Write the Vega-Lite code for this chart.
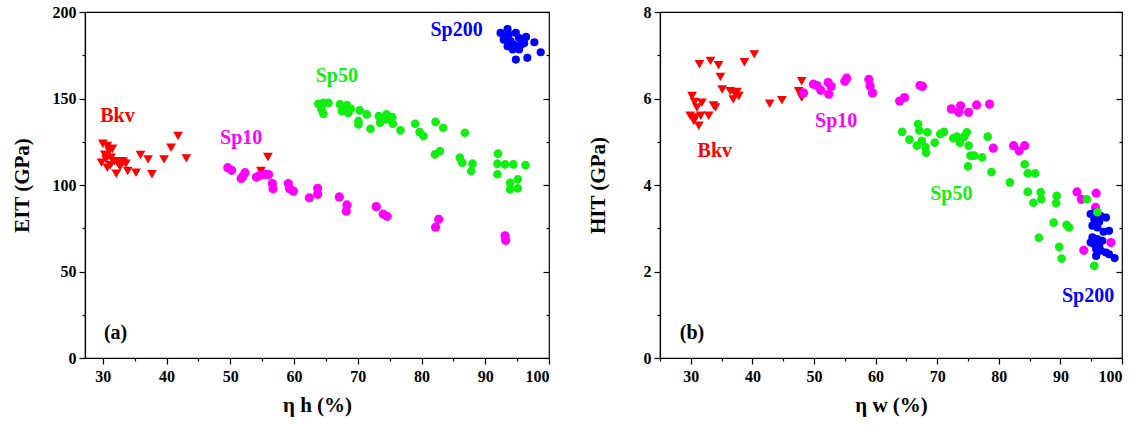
{
  "$schema": "https://vega.github.io/schema/vega-lite/v6.json",
  "background": "white",
  "padding": {"left": 10, "right": 2, "top": 3, "bottom": 2},
  "spacing": 35,
  "config": {
    "view": {"stroke": "black", "strokeWidth": 1.2},
    "axis": {"labelFont": "Liberation Serif", "labelFontWeight": "bold", "labelFontSize": 16, "labelColor": "black", "titleFont": "Liberation Serif", "titleFontWeight": "bold", "titleFontSize": 21, "titleColor": "black", "domainColor": "black", "domainWidth": 1.2, "tickColor": "black", "tickWidth": 1.2, "grid": false},
    "text": {"font": "Liberation Serif", "fontWeight": "bold", "fontSize": 20}
  },
  "datasets": {
    "a": [
      {"g":"Bkv","x":30,"y":123.8},{"g":"Bkv","x":30.7,"y":122.5},{"g":"Bkv","x":31,"y":119.6},{"g":"Bkv","x":29.8,"y":112.9},{"g":"Bkv","x":30.5,"y":114.8},{"g":"Bkv","x":31.3,"y":115.8},{"g":"Bkv","x":31.8,"y":113.8},{"g":"Bkv","x":32.3,"y":112.9},{"g":"Bkv","x":32.9,"y":113.8},{"g":"Bkv","x":33.6,"y":112.3},{"g":"Bkv","x":30.7,"y":110},{"g":"Bkv","x":32.1,"y":106.5},{"g":"Bkv","x":33.9,"y":108.1},{"g":"Bkv","x":35.2,"y":107.1},{"g":"Bkv","x":35.9,"y":117.3},{"g":"Bkv","x":37.1,"y":114.8},{"g":"Bkv","x":37.7,"y":106.2},{"g":"Bkv","x":39.6,"y":114.8},{"g":"Bkv","x":40.7,"y":121.5},{"g":"Bkv","x":41.8,"y":128.3},{"g":"Bkv","x":43.1,"y":115.4},{"g":"Bkv","x":31.2,"y":111.5},{"g":"Bkv","x":32.7,"y":110.5},{"g":"Bkv","x":33.2,"y":113.5},{"g":"Bkv","x":30.3,"y":117.5},{"g":"Bkv","x":31.5,"y":121},{"g":"Bkv","x":54.8,"y":108.1},{"g":"Bkv","x":55.9,"y":116.2},
      {"g":"Sp10","x":49.6,"y":110},{"g":"Sp10","x":50.2,"y":108.5},{"g":"Sp10","x":52,"y":105.2},{"g":"Sp10","x":52.3,"y":107.1},{"g":"Sp10","x":51.7,"y":103.8},{"g":"Sp10","x":54.1,"y":104.6},{"g":"Sp10","x":54.6,"y":105.5},{"g":"Sp10","x":55.4,"y":106.2},{"g":"Sp10","x":56,"y":106},{"g":"Sp10","x":56.6,"y":100.8},{"g":"Sp10","x":56.7,"y":97.8},{"g":"Sp10","x":59.1,"y":100.8},{"g":"Sp10","x":59.3,"y":97.8},{"g":"Sp10","x":59.9,"y":96.4},{"g":"Sp10","x":62.4,"y":92.6},{"g":"Sp10","x":63.7,"y":98.1},{"g":"Sp10","x":63.7,"y":94.6},{"g":"Sp10","x":67.1,"y":93.1},{"g":"Sp10","x":68.3,"y":88.5},{"g":"Sp10","x":68.2,"y":84.9},{"g":"Sp10","x":72.9,"y":87.5},{"g":"Sp10","x":74,"y":83.1},{"g":"Sp10","x":74.6,"y":81.9},{"g":"Sp10","x":82.2,"y":75.6},{"g":"Sp10","x":82.7,"y":80.2},{"g":"Sp10","x":93.1,"y":70.6},{"g":"Sp10","x":93.2,"y":68},
      {"g":"Sp200","x":92.4,"y":187.9},{"g":"Sp200","x":93.5,"y":190.2},{"g":"Sp200","x":93.7,"y":187},{"g":"Sp200","x":94.8,"y":187.9},{"g":"Sp200","x":92.9,"y":184},{"g":"Sp200","x":94,"y":183},{"g":"Sp200","x":95.3,"y":185},{"g":"Sp200","x":96.4,"y":185.6},{"g":"Sp200","x":96.1,"y":182},{"g":"Sp200","x":94.8,"y":179.2},{"g":"Sp200","x":93.5,"y":180.2},{"g":"Sp200","x":94.3,"y":178.3},{"g":"Sp200","x":95.3,"y":178.3},{"g":"Sp200","x":97.7,"y":182.5},{"g":"Sp200","x":98.7,"y":176.7},{"g":"Sp200","x":96.6,"y":173.5},{"g":"Sp200","x":94.8,"y":172.5},{"g":"Sp200","x":93.7,"y":182},{"g":"Sp200","x":94.5,"y":181},{"g":"Sp200","x":93.2,"y":186},{"g":"Sp200","x":95.6,"y":181},
      {"g":"Sp50","x":63.8,"y":146.9},{"g":"Sp50","x":64.6,"y":147.5},{"g":"Sp50","x":65.4,"y":147.5},{"g":"Sp50","x":64.3,"y":143.7},{"g":"Sp50","x":64.6,"y":141.1},{"g":"Sp50","x":67.2,"y":146.6},{"g":"Sp50","x":68.3,"y":146.2},{"g":"Sp50","x":67.5,"y":142.7},{"g":"Sp50","x":68.5,"y":141.7},{"g":"Sp50","x":70.3,"y":143.1},{"g":"Sp50","x":70.1,"y":136.9},{"g":"Sp50","x":70.1,"y":135},{"g":"Sp50","x":71.4,"y":140.8},{"g":"Sp50","x":72,"y":132.5},{"g":"Sp50","x":73.3,"y":139.8},{"g":"Sp50","x":73.5,"y":136},{"g":"Sp50","x":74.3,"y":137.9},{"g":"Sp50","x":74.5,"y":140.8},{"g":"Sp50","x":75.4,"y":139.2},{"g":"Sp50","x":75.5,"y":135.4},{"g":"Sp50","x":76.7,"y":131.6},{"g":"Sp50","x":79,"y":135.4},{"g":"Sp50","x":79.7,"y":130.6},{"g":"Sp50","x":80.3,"y":128.3},{"g":"Sp50","x":82.2,"y":136.5},{"g":"Sp50","x":83.4,"y":133.1},{"g":"Sp50","x":82.1,"y":117.7},{"g":"Sp50","x":82.9,"y":119.6},{"g":"Sp50","x":86.8,"y":130.2},{"g":"Sp50","x":86,"y":115.8},{"g":"Sp50","x":86.4,"y":112.9},{"g":"Sp50","x":88,"y":112.3},{"g":"Sp50","x":87.8,"y":108.1},{"g":"Sp50","x":92,"y":118.1},{"g":"Sp50","x":91.9,"y":112.3},{"g":"Sp50","x":91.9,"y":106.2},{"g":"Sp50","x":93.1,"y":111.9},{"g":"Sp50","x":94.4,"y":111.9},{"g":"Sp50","x":96.3,"y":111.5},{"g":"Sp50","x":95.1,"y":103.3},{"g":"Sp50","x":93.9,"y":101.3},{"g":"Sp50","x":93.9,"y":97.5},{"g":"Sp50","x":95.1,"y":98.1},{"g":"Sp50","x":68.9,"y":144},{"g":"Sp50","x":74.9,"y":138}
    ],
    "b": [
      {"g":"Bkv","x":31.4,"y":6.79},{"g":"Bkv","x":33.2,"y":6.87},{"g":"Bkv","x":34.5,"y":6.77},{"g":"Bkv","x":34.8,"y":6.5},{"g":"Bkv","x":38.7,"y":6.84},{"g":"Bkv","x":40.3,"y":7.02},{"g":"Bkv","x":35.1,"y":6.21},{"g":"Bkv","x":36.4,"y":6.17},{"g":"Bkv","x":37.2,"y":6.1},{"g":"Bkv","x":37.8,"y":6.06},{"g":"Bkv","x":36.9,"y":5.98},{"g":"Bkv","x":30.2,"y":6.06},{"g":"Bkv","x":31.8,"y":5.9},{"g":"Bkv","x":30.6,"y":5.92},{"g":"Bkv","x":33.7,"y":5.84},{"g":"Bkv","x":34,"y":5.79},{"g":"Bkv","x":29.9,"y":5.6},{"g":"Bkv","x":30.7,"y":5.56},{"g":"Bkv","x":31.6,"y":5.6},{"g":"Bkv","x":31.3,"y":5.37},{"g":"Bkv","x":30.5,"y":5.48},{"g":"Bkv","x":32.9,"y":5.6},{"g":"Bkv","x":31,"y":5.79},{"g":"Bkv","x":37.5,"y":6.15},{"g":"Bkv","x":42.8,"y":5.88},{"g":"Bkv","x":44.8,"y":5.96},{"g":"Bkv","x":48,"y":6.4},{"g":"Bkv","x":48,"y":6.02},{"g":"Bkv","x":47.5,"y":6.17},
      {"g":"Sp10","x":48.3,"y":6.13},{"g":"Sp10","x":49.9,"y":6.33},{"g":"Sp10","x":51.1,"y":6.19},{"g":"Sp10","x":52.3,"y":6.37},{"g":"Sp10","x":52.4,"y":6.1},{"g":"Sp10","x":50.5,"y":6.3},{"g":"Sp10","x":52.8,"y":6.28},{"g":"Sp10","x":55,"y":6.4},{"g":"Sp10","x":55.3,"y":6.47},{"g":"Sp10","x":58.9,"y":6.44},{"g":"Sp10","x":59.1,"y":6.29},{"g":"Sp10","x":59.5,"y":6.13},{"g":"Sp10","x":63.9,"y":5.94},{"g":"Sp10","x":64.7,"y":6.02},{"g":"Sp10","x":67.2,"y":6.3},{"g":"Sp10","x":67.6,"y":6.28},{"g":"Sp10","x":72.3,"y":5.76},{"g":"Sp10","x":73.5,"y":5.68},{"g":"Sp10","x":73.8,"y":5.83},{"g":"Sp10","x":75.1,"y":5.68},{"g":"Sp10","x":76.4,"y":5.85},{"g":"Sp10","x":78.5,"y":5.87},{"g":"Sp10","x":79.1,"y":4.85},{"g":"Sp10","x":82.4,"y":4.91},{"g":"Sp10","x":83.3,"y":4.79},{"g":"Sp10","x":84.2,"y":4.91},{"g":"Sp10","x":92.7,"y":3.84},{"g":"Sp10","x":93.4,"y":3.67},{"g":"Sp10","x":95.8,"y":3.81},{"g":"Sp10","x":95.7,"y":3.48},{"g":"Sp10","x":93.8,"y":2.49},{"g":"Sp10","x":98.2,"y":2.67},
      {"g":"Sp200","x":94.9,"y":3.33},{"g":"Sp200","x":95.7,"y":3.36},{"g":"Sp200","x":96.5,"y":3.29},{"g":"Sp200","x":97.4,"y":3.25},{"g":"Sp200","x":95.5,"y":3.21},{"g":"Sp200","x":96.3,"y":3.15},{"g":"Sp200","x":95.2,"y":3.06},{"g":"Sp200","x":96,"y":3.02},{"g":"Sp200","x":97,"y":2.92},{"g":"Sp200","x":97.9,"y":2.94},{"g":"Sp200","x":95.2,"y":2.79},{"g":"Sp200","x":96,"y":2.75},{"g":"Sp200","x":96.8,"y":2.71},{"g":"Sp200","x":94.9,"y":2.67},{"g":"Sp200","x":95.5,"y":2.63},{"g":"Sp200","x":96.3,"y":2.59},{"g":"Sp200","x":95.8,"y":2.52},{"g":"Sp200","x":96.6,"y":2.48},{"g":"Sp200","x":97.4,"y":2.44},{"g":"Sp200","x":97.9,"y":2.4},{"g":"Sp200","x":95.8,"y":2.36},{"g":"Sp200","x":98.8,"y":2.31},
      {"g":"Sp50","x":64.3,"y":5.23},{"g":"Sp50","x":65.5,"y":5.05},{"g":"Sp50","x":66.9,"y":5.41},{"g":"Sp50","x":67.1,"y":5.26},{"g":"Sp50","x":66.7,"y":4.91},{"g":"Sp50","x":67.5,"y":5.02},{"g":"Sp50","x":68.1,"y":4.87},{"g":"Sp50","x":68.4,"y":5.22},{"g":"Sp50","x":68.2,"y":4.75},{"g":"Sp50","x":69.6,"y":4.98},{"g":"Sp50","x":70.5,"y":5.18},{"g":"Sp50","x":71.1,"y":5.23},{"g":"Sp50","x":72.6,"y":5.08},{"g":"Sp50","x":73.2,"y":5.12},{"g":"Sp50","x":73.7,"y":4.98},{"g":"Sp50","x":74.4,"y":5.12},{"g":"Sp50","x":74.8,"y":5.22},{"g":"Sp50","x":75.1,"y":4.91},{"g":"Sp50","x":75.4,"y":4.68},{"g":"Sp50","x":75,"y":4.43},{"g":"Sp50","x":76,"y":4.68},{"g":"Sp50","x":77.3,"y":4.64},{"g":"Sp50","x":78.2,"y":5.12},{"g":"Sp50","x":78.8,"y":4.3},{"g":"Sp50","x":81.8,"y":4.06},{"g":"Sp50","x":84.2,"y":4.48},{"g":"Sp50","x":84.7,"y":4.27},{"g":"Sp50","x":85.9,"y":4.27},{"g":"Sp50","x":84.7,"y":3.84},{"g":"Sp50","x":85.6,"y":3.59},{"g":"Sp50","x":86.8,"y":3.83},{"g":"Sp50","x":86.9,"y":3.67},{"g":"Sp50","x":86.5,"y":2.78},{"g":"Sp50","x":89.4,"y":3.75},{"g":"Sp50","x":89.3,"y":3.58},{"g":"Sp50","x":88.9,"y":3.13},{"g":"Sp50","x":91,"y":3.08},{"g":"Sp50","x":91.4,"y":3.02},{"g":"Sp50","x":89.8,"y":2.57},{"g":"Sp50","x":90.2,"y":2.3},{"g":"Sp50","x":94.3,"y":3.67},{"g":"Sp50","x":95.5,"y":2.13},{"g":"Sp50","x":96,"y":3.37}
    ],
    "la": [
      {"t":"Bkv","g":"Bkv","x":32.3,"y":140},{"t":"Sp10","g":"Sp10","x":51.7,"y":127.3},{"t":"Sp50","g":"Sp50","x":66.7,"y":162.9},{"t":"Sp200","g":"Sp200","x":85.5,"y":189.5},{"t":"(a)","g":"none","x":32,"y":14.5}
    ],
    "lb": [
      {"t":"Bkv","g":"Bkv","x":33.9,"y":4.79},{"t":"Sp10","g":"Sp10","x":53.6,"y":5.49},{"t":"Sp50","g":"Sp50","x":72.3,"y":3.79},{"t":"Sp200","g":"Sp200","x":94.5,"y":1.44},{"t":"(b)","g":"none","x":30.2,"y":0.58}
    ]
  },
  "hconcat": [
    {
      "width": 464,
      "height": 346,
      "resolve": {"axis": {"x": "independent", "y": "independent"}},
      "layer": [
        {
          "data": {"name": "a"},
          "mark": {"type": "point", "filled": true, "opacity": 1, "strokeWidth": 0},
          "encoding": {
            "x": {"field": "x", "type": "quantitative", "scale": {"domain": [27.2, 100], "nice": false, "zero": false},
              "axis": {"title": "η h (%)", "values": [30,35,40,45,50,55,60,65,70,75,80,85,90,95,100], "labelExpr": "datum.value % 10 === 0 ? datum.label : ''", "tickSize": {"condition": {"test": "datum.value % 10 === 0", "value": 6}, "value": 3}, "labelPadding": 4, "titlePadding": 10}},
            "y": {"field": "y", "type": "quantitative", "scale": {"domain": [0, 200], "nice": false},
              "axis": {"title": "EIT (GPa)", "values": [0,25,50,75,100,125,150,175,200], "labelExpr": "datum.value % 50 === 0 ? datum.label : ''", "tickSize": {"condition": {"test": "datum.value % 50 === 0", "value": 6}, "value": 3}, "labelPadding": 3, "titlePadding": 20}},
            "color": {"field": "g", "type": "nominal", "scale": {"domain": ["Bkv","Sp10","Sp50","Sp200","none"], "range": ["#ff0000","#ff00ff","#11ee11","#0000ff","#000000"]}, "legend": null},
            "shape": {"field": "g", "type": "nominal", "scale": {"domain": ["Bkv","Sp10","Sp50","Sp200"], "range": ["triangle-down","circle","circle","circle"]}, "legend": null},
            "size": {"field": "g", "type": "nominal", "scale": {"domain": ["Bkv","Sp10","Sp50","Sp200"], "range": [95, 66, 66, 66]}, "legend": null}
          }
        },
        {
          "data": {"name": "la"},
          "mark": {"type": "text", "align": "center", "baseline": "middle"},
          "encoding": {
            "x": {"field": "x", "type": "quantitative", "scale": {"domain": [27.2, 100], "nice": false, "zero": false}, "axis": null},
            "y": {"field": "y", "type": "quantitative", "scale": {"domain": [0, 200], "nice": false},
              "axis": {"orient": "right", "title": null, "labels": false, "domain": false, "values": [0,25,50,75,100,125,150,175,200], "tickSize": {"condition": {"test": "datum.value % 50 === 0", "value": -6}, "value": -3}}},
            "text": {"field": "t"},
            "color": {"field": "g", "type": "nominal", "legend": null}
          }
        }
      ]
    },
    {
      "width": 462,
      "height": 346,
      "resolve": {"axis": {"x": "independent", "y": "independent"}},
      "layer": [
        {
          "data": {"name": "b"},
          "mark": {"type": "point", "filled": true, "opacity": 1, "strokeWidth": 0},
          "encoding": {
            "x": {"field": "x", "type": "quantitative", "scale": {"domain": [25, 100], "nice": false, "zero": false},
              "axis": {"title": "η w (%)", "values": [25,30,35,40,45,50,55,60,65,70,75,80,85,90,95,100], "labelExpr": "datum.value % 10 === 0 ? datum.label : ''", "tickSize": {"condition": {"test": "datum.value % 10 === 0", "value": 6}, "value": 3}, "labelPadding": 4, "titlePadding": 10}},
            "y": {"field": "y", "type": "quantitative", "scale": {"domain": [0, 8], "nice": false},
              "axis": {"title": "HIT (GPa)", "values": [0,1,2,3,4,5,6,7,8], "labelExpr": "datum.value % 2 === 0 ? datum.label : ''", "tickSize": {"condition": {"test": "datum.value % 2 === 0", "value": 6}, "value": 3}, "labelPadding": 3, "titlePadding": 35}},
            "color": {"field": "g", "type": "nominal", "scale": {"domain": ["Bkv","Sp10","Sp50","Sp200","none"], "range": ["#ff0000","#ff00ff","#11ee11","#0000ff","#000000"]}, "legend": null},
            "shape": {"field": "g", "type": "nominal", "scale": {"domain": ["Bkv","Sp10","Sp50","Sp200"], "range": ["triangle-down","circle","circle","circle"]}, "legend": null},
            "size": {"field": "g", "type": "nominal", "scale": {"domain": ["Bkv","Sp10","Sp50","Sp200"], "range": [95, 66, 66, 66]}, "legend": null}
          }
        },
        {
          "data": {"name": "lb"},
          "mark": {"type": "text", "align": "center", "baseline": "middle"},
          "encoding": {
            "x": {"field": "x", "type": "quantitative", "scale": {"domain": [25, 100], "nice": false, "zero": false}, "axis": null},
            "y": {"field": "y", "type": "quantitative", "scale": {"domain": [0, 8], "nice": false},
              "axis": {"orient": "right", "title": null, "labels": false, "domain": false, "values": [0,1,2,3,4,5,6,7,8], "tickSize": {"condition": {"test": "datum.value % 2 === 0", "value": -6}, "value": -3}}},
            "text": {"field": "t"},
            "color": {"field": "g", "type": "nominal", "legend": null}
          }
        }
      ]
    }
  ]
}
